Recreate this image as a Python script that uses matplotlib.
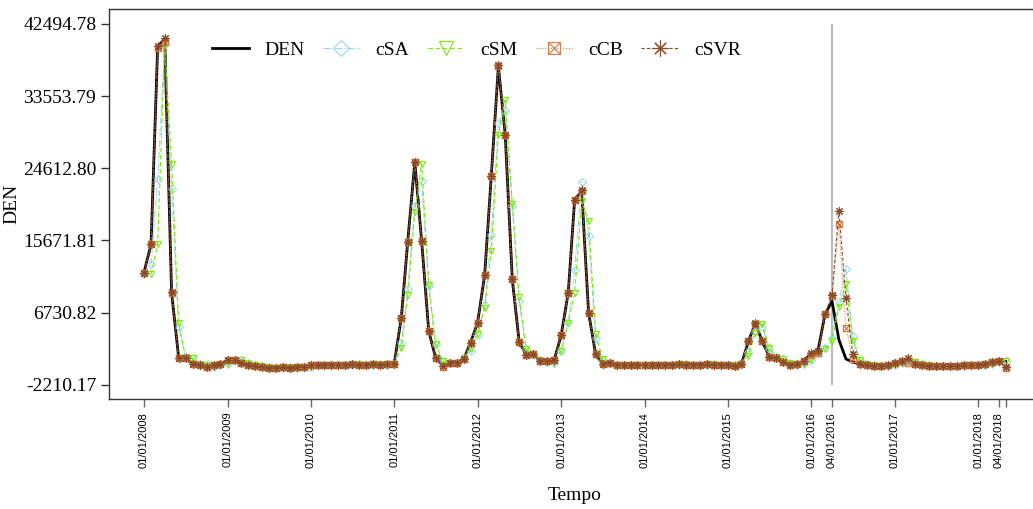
"""Monthly DEN series with four model fits (cSA, cSM, cCB, cSVR), 2008-2018."""

import numpy as np
import pandas as pd
import matplotlib
matplotlib.use("Agg")
import matplotlib.pyplot as plt
from matplotlib.path import Path

# monthly observations, Jan 2008 .. May 2018 (one row per year)
den = [
    11700, 15200, 39700, 40600, 9200, 1150, 1100, 390, 260, 50, 260, 420,
    840, 840, 490, 260, 140, 40, -70, -70, 15, -70, 15, 40,
    200, 220, 260, 300, 280, 300, 320, 300, 280, 320, 300, 400,
    450, 6100, 15500, 25350, 15600, 4460, 1160, 200, 550, 550, 970, 3020,
    5490, 11390, 23710, 37220, 28780, 10850, 3140, 1500, 1580, 760, 760, 840,
    3930, 9200, 20740, 21770, 6730, 1580, 420, 550, 300, 260, 260, 260,
    260, 300, 260, 260, 300, 340, 260, 260, 300, 340, 300, 260,
    260, 140, 340, 3180, 5400, 3180, 1300, 1100, 650, 300, 380, 800,
    1700, 2200, 6500, 8170, 3400, 1000, 600, 420, 200, 140, 140, 200,
    500, 700, 600, 400, 200, 140, 100, 100, 140, 140, 200, 200,
    260, 400, 600, 800, 700,
]

csa = [
    11500, 12700, 23250, 40000, 22000, 5000, 1200, 1100, 400, 260, 60, 260,
    420, 850, 850, 500, 260, 140, 40, -70, -70, 0, -70, 0,
    40, 200, 220, 260, 300, 280, 300, 320, 300, 280, 320, 300,
    400, 3020, 9620, 19900, 23000, 10000, 2820, 760, 550, 550, 1160, 2000,
    4000, 7680, 16400, 30200, 31650, 20000, 8170, 2200, 1600, 900, 600, 550,
    2000, 5600, 12000, 22900, 16200, 3600, 900, 500, 300, 260, 260, 260,
    260, 260, 300, 260, 260, 300, 340, 260, 260, 300, 340, 300,
    260, 260, 340, 1800, 4500, 5000, 2200, 1250, 970, 550, 260, 420,
    840, 1700, 2300, 3600, 8000, 12090, 3800, 900, 400, 200, 140, 140,
    200, 500, 800, 600, 400, 200, 140, 100, 100, 140, 140, 200,
    200, 260, 400, 600, 760,
]

csm = [
    11500, 11500, 15200, 40000, 25200, 5500, 1200, 1100, 400, 260, 60, 260,
    420, 850, 850, 500, 260, 140, 40, -70, -70, 0, -70, 0,
    40, 200, 220, 260, 300, 280, 300, 320, 300, 280, 320, 300,
    400, 2300, 8900, 19200, 25200, 10200, 2800, 760, 550, 550, 1160, 2200,
    4130, 7350, 14350, 28780, 33100, 20200, 8670, 2200, 1600, 900, 600, 550,
    1990, 5490, 9200, 20500, 18060, 4130, 970, 500, 300, 260, 260, 260,
    260, 260, 300, 260, 260, 300, 340, 260, 260, 300, 340, 300,
    260, 260, 340, 1370, 4250, 5280, 2400, 1250, 970, 550, 260, 420,
    840, 1700, 2200, 3230, 7430, 10240, 3230, 900, 400, 200, 140, 140,
    200, 500, 700, 600, 400, 200, 140, 100, 100, 140, 140, 200,
    200, 260, 400, 600, 760,
]

ccb = [
    11700, 15200, 39500, 40300, 9200, 1150, 1100, 390, 260, 50, 260, 420,
    840, 840, 490, 260, 140, 40, -70, -70, 15, -70, 15, 40,
    200, 220, 260, 300, 280, 300, 320, 300, 280, 320, 300, 420,
    420, 6100, 15470, 25350, 15590, 4460, 1160, 15, 550, 550, 970, 3020,
    5490, 11390, 23710, 37220, 28780, 10850, 3140, 1500, 1580, 760, 760, 840,
    3930, 9200, 20740, 21770, 6730, 1580, 420, 550, 300, 260, 260, 260,
    260, 300, 260, 260, 300, 340, 260, 260, 300, 340, 300, 260,
    260, 140, 340, 3180, 5300, 3180, 1300, 1100, 650, 300, 380, 800,
    1500, 1790, 6530, 8790, 17730, 4870, 970, 420, 200, 140, 140, 200,
    500, 700, 550, 400, 200, 140, 100, 100, 140, 140, 200, 200,
    260, 400, 600, 800, -70,
]

csvr = [
    11700, 15200, 39800, 40800, 9300, 1150, 1100, 390, 260, 50, 260, 420,
    840, 840, 490, 260, 140, 40, -70, -70, 15, -70, 15, 40,
    200, 220, 260, 300, 280, 300, 320, 300, 280, 320, 300, 420,
    420, 6100, 15470, 25400, 15590, 4460, 1160, 100, 550, 550, 970, 3020,
    5490, 11390, 23710, 37400, 28780, 10850, 3140, 1500, 1580, 760, 760, 840,
    3930, 9200, 20740, 21900, 6730, 1580, 420, 550, 300, 260, 260, 260,
    260, 300, 260, 260, 300, 340, 260, 260, 300, 340, 300, 260,
    260, 140, 340, 3180, 5500, 3180, 1300, 1100, 650, 300, 380, 800,
    1700, 2000, 6600, 8900, 19380, 8590, 1580, 420, 200, 140, 140, 200,
    500, 700, 1160, 400, 200, 140, 100, 100, 140, 140, 200, 200,
    260, 400, 600, 760, -40,
]

months = pd.date_range("2008-01-01", periods=len(den), freq="MS")

tick_dates = pd.to_datetime([
    "2008-01-01", "2009-01-01", "2010-01-01", "2011-01-01", "2012-01-01",
    "2013-01-01", "2014-01-01", "2015-01-01", "2016-01-01", "2016-04-01",
    "2017-01-01", "2018-01-01", "2018-04-01",
])
tick_labels = [d.strftime("%m/%d/%Y") for d in tick_dates]
y_ticks = [-2210.17, 6730.82, 15671.81, 24612.80, 33553.79, 42494.78]
cut_date = pd.Timestamp("2016-04-01")

# square with a cross inside, like R's pch 7
box_x = Path(
    [(-1, -1), (1, -1), (1, 1), (-1, 1), (-1, -1), (-1, -1), (1, 1), (-1, 1), (1, -1)],
    [Path.MOVETO, Path.LINETO, Path.LINETO, Path.LINETO, Path.CLOSEPOLY,
     Path.MOVETO, Path.LINETO, Path.MOVETO, Path.LINETO],
)

serif = "Liberation Serif"

fig = plt.figure(figsize=(10.33, 5.09), dpi=100)
ax = fig.add_axes([0.106, 0.2155, 0.9008, 0.766])

ax.plot(months, den, color="black", lw=2.0, label="DEN", zorder=3)
ax.plot(months, csa, color="#9ad9ec", lw=0.8, ls="-.", marker="D", ms=4.2,
        mfc="none", mew=0.8, label="cSA", zorder=4)
ax.plot(months, csm, color="#76ee00", lw=0.8, ls=(0, (4, 2.5)), marker="v", ms=5,
        mfc="none", mew=0.8, label="cSM", zorder=4)
ax.plot(months, ccb, color="#d9814a", lw=0.8, ls=":", marker=box_x, ms=4.5,
        mfc="none", mew=0.9, label="cCB", zorder=5)
ax.plot(months, csvr, color="#8b4a26", lw=0.8, ls=(0, (3, 2)), marker=(8, 2, 0), ms=6,
        mew=0.8, label="cSVR", zorder=6)

ax.vlines(cut_date, y_ticks[0], y_ticks[-1], color="#bdbdbd", lw=1.6, zorder=1)

span = months[-1] - months[0]
ax.set_xlim(months[0] - span * 0.04, months[-1] + span * 0.04)
ax.set_ylim(-3998.4, 44283.0)

ax.set_xticks(tick_dates)
ax.set_xticklabels(tick_labels, rotation=90, fontsize=8, family="Liberation Sans")
ax.set_xticks([pd.Timestamp("2018-05-01")], minor=True)
ax.tick_params(axis="x", which="both", length=6, color="#666666", width=1, pad=3)
ax.set_yticks(y_ticks)
ax.set_yticklabels([f"{v:.2f}" for v in y_ticks], fontsize=14, family=serif)
ax.tick_params(axis="y", length=6, color="#333333", width=1)

for side in ["top", "right", "bottom", "left"]:
    ax.spines[side].set_color("#333333")
    ax.spines[side].set_linewidth(1.0)

ax.set_xlabel("Tempo", fontsize=14, family=serif, labelpad=14)
ax.set_ylabel("DEN", fontsize=14, family=serif)
ax.yaxis.set_label_coords(-0.096, 0.5)

ax.legend(loc="center", bbox_to_anchor=(0.394, 0.895), ncol=5, frameon=False,
          prop={"family": serif, "size": 14}, handlelength=1.9,
          handletextpad=0.8, columnspacing=0.95, markerscale=1.9)

fig.savefig("out.png", dpi=100)
